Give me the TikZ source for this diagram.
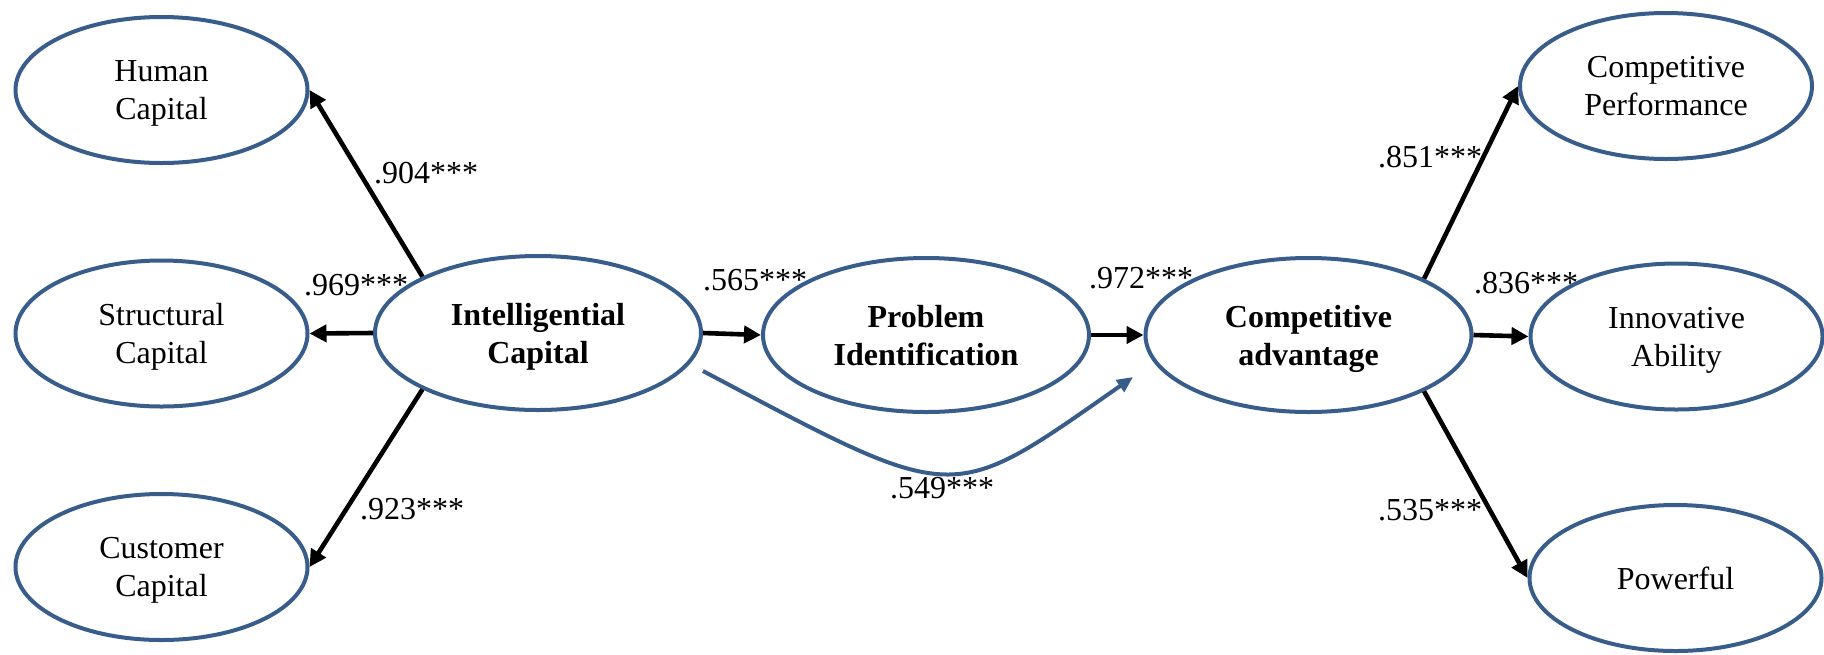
\documentclass[tikz,border=0pt]{standalone}
\usepackage{fontspec}
\setmainfont{Liberation Serif}
\usetikzlibrary{shapes.geometric,arrows.meta}
\definecolor{shapeblue}{HTML}{385D8A}

\begin{document}
\begin{tikzpicture}[x=0.5pt,y=-0.5pt,
    font=\fontsize{16}{19}\selectfont,
    factor/.style={ellipse,draw=shapeblue,line width=2pt,inner sep=0pt,
      minimum width=146pt,minimum height=73pt,align=center,text depth=0pt},
    latent/.style={factor,minimum width=163pt,minimum height=77pt,
      font=\fontsize{16}{19}\selectfont\bfseries},
    arrowline/.style={line width=2.3pt,-{Triangle[length=8.5pt,width=8.5pt]}},
    direct/.style={draw=shapeblue,line width=2pt,-{Triangle[length=8pt,width=7pt]}},
    coef/.style={inner sep=0pt}]
      \useasboundingbox (0,0) rectangle (1824,654);
      \node[factor] (hc) at (161.5,90) {Human\\Capital};
      \node[factor] (sc) at (161.5,333.5) {Structural\\Capital};
      \node[factor] (cc) at (161.5,567) {Customer\\Capital};
      \node[latent] (ic) at (538,333) {Intelligential\\Capital};
      \node[latent] (pi) at (926,335) {Problem\\Identification};
      \node[latent] (ca) at (1308.5,335) {Competitive\\advantage};
      \node[factor] (cp) at (1666,86) {Competitive\\Performance};
      \node[factor] (ia) at (1676.5,336.5) {Innovative\\Ability};
      \node[factor] (pw) at (1675.5,578) {Powerful};
      \draw[arrowline] (ic.154) -- (hc.east);
      \draw[arrowline] (ic.west) -- (sc.east);
      \draw[arrowline] (ic.206) -- (cc.east);
      \draw[arrowline] (ic.east) -- (pi.west);
      \draw[arrowline] (pi.east) -- (ca.west);
      \draw[arrowline] (ca.26) -- (cp.west);
      \draw[arrowline] (ca.east) -- (ia.west);
      \draw[arrowline] (ca.-26) -- (pw.west);
      \coordinate (dstart) at (703,371);
      \coordinate (dend) at (1133,377);
      \draw[direct] (dstart) .. controls (960,507) and (948,506) .. (dend);
      \node[coef] (l904) at (426,173) {.904***};
      \node[coef] (l969) at (356,285) {.969***};
      \node[coef] (l923) at (412,509) {.923***};
      \node[coef] (l565) at (755,280) {.565***};
      \node[coef] (l972) at (1141,278) {.972***};
      \node[coef] (l549) at (942,488) {.549***};
      \node[coef] (l851) at (1430,157) {.851***};
      \node[coef] (l836) at (1526,283) {.836***};
      \node[coef] (l535) at (1430,510) {.535***};
    \end{tikzpicture}
\end{document}
